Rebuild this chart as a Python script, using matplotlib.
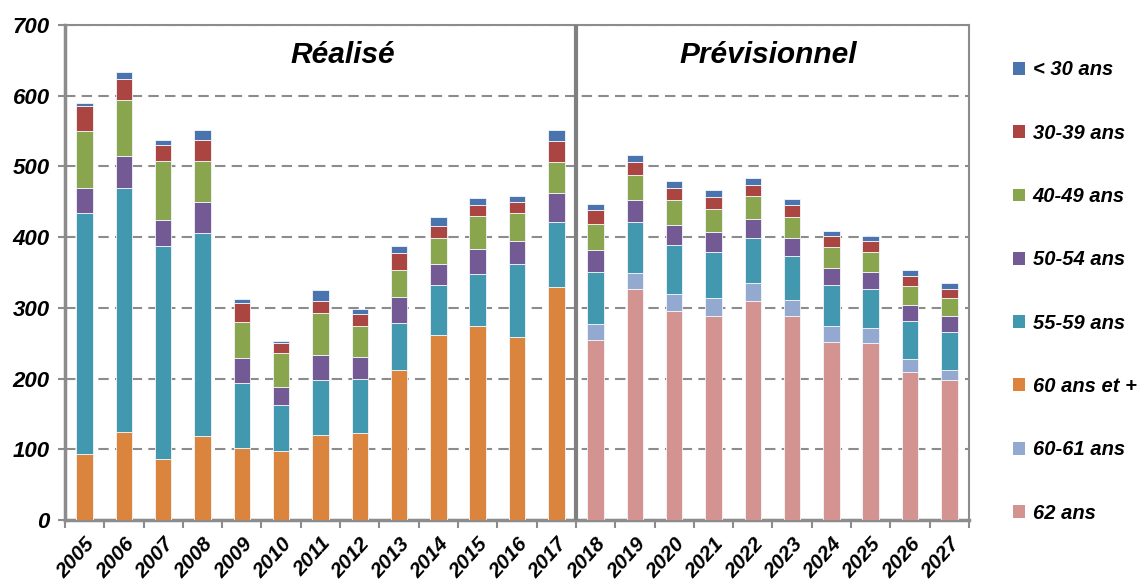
import matplotlib
matplotlib.use("Agg")
from matplotlib import pyplot as plt
from matplotlib.patches import Patch
import numpy as np

plt.rcParams['font.family'] = ['Liberation Sans', 'DejaVu Sans']

years_real = ['2005', '2006', '2007', '2008', '2009', '2010', '2011',
              '2012', '2013', '2014', '2015', '2016', '2017']
years_prev = ['2018', '2019', '2020', '2021', '2022', '2023', '2024',
              '2025', '2026', '2027']

# Réalisé (bottom to top)
r_60plus = [94, 125, 87, 119, 102, 98, 120, 123, 212, 261, 274, 259, 329]
r_55_59 = [340, 345, 300, 287, 92, 65, 78, 76, 67, 72, 74, 103, 93]
r_50_54 = [36, 45, 37, 44, 35, 25, 35, 31, 37, 29, 35, 32, 40]
r_40_49 = [80, 79, 83, 58, 51, 48, 60, 44, 38, 37, 47, 40, 44]
r_30_39 = [36, 30, 24, 30, 27, 14, 17, 18, 23, 17, 16, 16, 30]
r_lt30 = [4, 9, 6, 13, 6, 3, 15, 7, 11, 13, 9, 8, 15]

# Prévisionnel (bottom to top)
p_62 = [254, 327, 295, 288, 310, 288, 252, 250, 209, 198]
p_60_61 = [23, 23, 25, 26, 25, 23, 22, 21, 18, 14]
p_55_59 = [74, 72, 69, 65, 64, 62, 58, 56, 54, 54]
p_50_54 = [31, 30, 28, 28, 27, 26, 25, 24, 23, 22]
p_40_49 = [37, 36, 35, 33, 32, 30, 29, 28, 27, 26]
p_30_39 = [19, 18, 18, 17, 16, 17, 15, 15, 14, 13]
p_lt30 = [9, 10, 9, 9, 9, 8, 7, 8, 8, 8]

colors = {
    '< 30 ans': '#4a74ad',
    '30-39 ans': '#ab4542',
    '40-49 ans': '#89a54e',
    '50-54 ans': '#735a95',
    '55-59 ans': '#4198af',
    '60 ans et +': '#db843d',
    '60-61 ans': '#93a9cf',
    '62 ans': '#d39391',
}

fig = plt.figure(figsize=(11.44, 5.8), dpi=100)
ax = fig.add_axes([0.0568, 0.1034, 0.7902, 0.8535])

n_real = len(years_real)
x_real = np.arange(n_real)
x_prev = np.arange(len(years_prev)) + n_real
w = 0.42
edge = dict(edgecolor='#f4f6fb', linewidth=0.6, zorder=3)

bottom = np.zeros(n_real)
for vals, key in [(r_60plus, '60 ans et +'), (r_55_59, '55-59 ans'),
                  (r_50_54, '50-54 ans'), (r_40_49, '40-49 ans'),
                  (r_30_39, '30-39 ans'), (r_lt30, '< 30 ans')]:
    ax.bar(x_real, vals, w, bottom=bottom, color=colors[key], **edge)
    bottom += np.array(vals)

bottom = np.zeros(len(years_prev))
for vals, key in [(p_62, '62 ans'), (p_60_61, '60-61 ans'),
                  (p_55_59, '55-59 ans'), (p_50_54, '50-54 ans'),
                  (p_40_49, '40-49 ans'), (p_30_39, '30-39 ans'),
                  (p_lt30, '< 30 ans')]:
    ax.bar(x_prev, vals, w, bottom=bottom, color=colors[key], **edge)
    bottom += np.array(vals)

ntot = n_real + len(years_prev)
ax.set_xlim(-0.5, ntot - 0.5)
ax.set_ylim(0, 700)

ax.set_yticks(range(0, 701, 100))
ax.yaxis.grid(True, linestyle=(0, (5, 3)), color='#8c8c8c', linewidth=1.5, zorder=0)
ax.set_axisbelow(True)
for lbl in ax.get_yticklabels():
    lbl.set_fontweight('bold')
    lbl.set_fontstyle('italic')
    lbl.set_fontsize(16)
ax.tick_params(axis='y', length=5, color='#8c8c8c', width=1.5, pad=6)

ax.set_xticks(np.arange(-0.5, ntot, 1.0))
ax.set_xticklabels([])
ax.tick_params(axis='x', which='major', length=6, color='#8c8c8c', width=1.5)
ax.set_xticks(np.arange(ntot), minor=True)
ax.set_xticklabels(years_real + years_prev, minor=True, rotation=48,
                   ha='right', va='top', rotation_mode='anchor',
                   fontsize=15, fontweight='bold', fontstyle='italic')
ax.tick_params(axis='x', which='minor', length=0, pad=10)

for side in ['left', 'bottom']:
    ax.spines[side].set_color('#8c8c8c')
    ax.spines[side].set_linewidth(2.5)
for side in ['top', 'right']:
    ax.spines[side].set_color('#8c8c8c')
    ax.spines[side].set_linewidth(1.5)

ax.axvline(n_real - 0.5, color='#808080', linewidth=3, zorder=4)

ax.text(6.57, 658, 'Réalisé', ha='center', va='center',
        fontsize=21.5, fontweight='bold', fontstyle='italic')
ax.text(17.4, 658, 'Prévisionnel', ha='center',
        va='center', fontsize=21.5, fontweight='bold', fontstyle='italic')

order = ['< 30 ans', '30-39 ans', '40-49 ans', '50-54 ans', '55-59 ans',
         '60 ans et +', '60-61 ans', '62 ans']
handles = [Patch(facecolor=colors[k], label=k) for k in order]
leg = fig.legend(handles=handles, loc='upper left', bbox_to_anchor=(0.87, 0.927),
                 frameon=False, handlelength=0.6, handleheight=0.6,
                 handletextpad=0.35, labelspacing=2.2,
                 prop={'weight': 'bold', 'style': 'italic', 'size': 14.5})

fig.savefig('out.png', dpi=100)
